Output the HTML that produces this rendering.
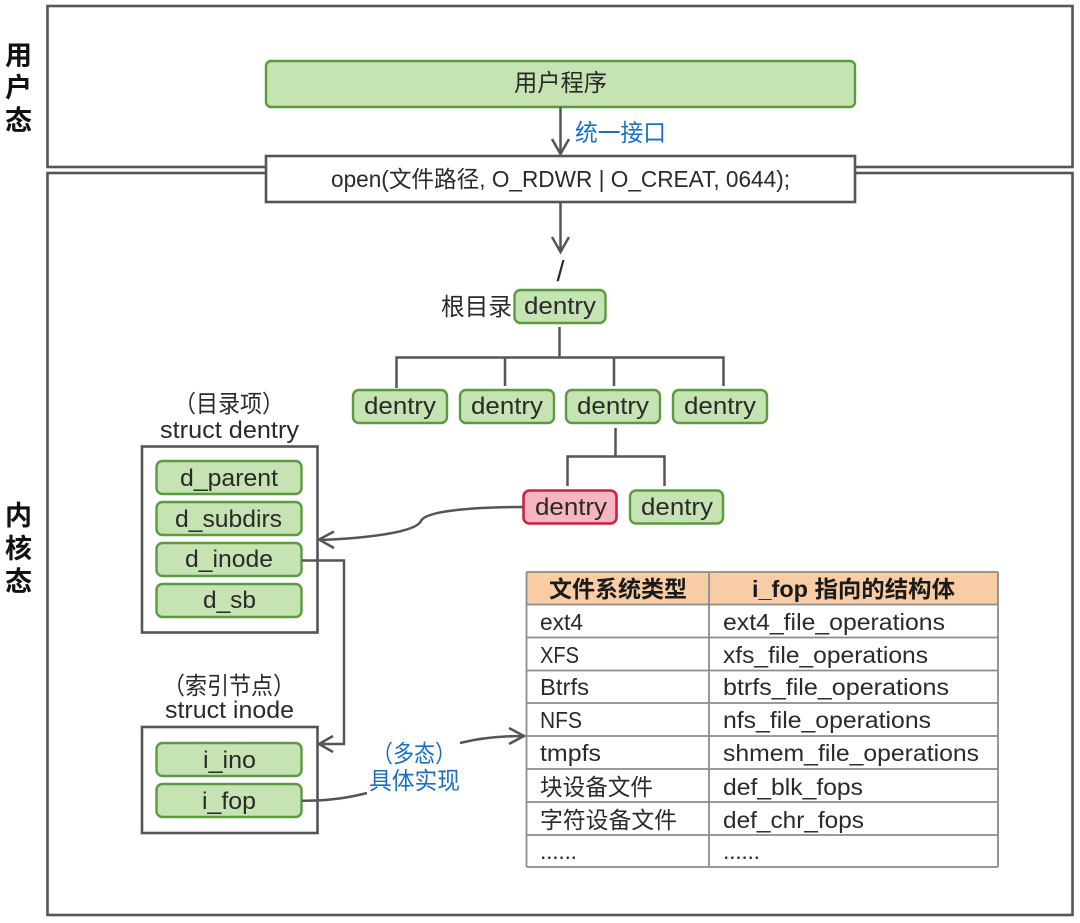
<!DOCTYPE html>
<html><head><meta charset="utf-8">
<style>
html,body{margin:0;padding:0;background:#fff;width:1080px;height:923px;overflow:hidden}
svg{display:block}
text{font-family:"Liberation Sans","Noto Sans CJK SC",sans-serif;fill:#2a2a2a;font-size:24px}
.c{font-size:23px}
.b{fill:#1a6fc4}
.h{font-weight:bold;fill:#1a1a1a;font-size:23px}
.s{font-weight:bold;fill:#111;font-size:27px}
.g{fill:#c6e3b3;stroke:#5c9a42;stroke-width:2.4}
.r{fill:#f6b6c1;stroke:#c9233f;stroke-width:2.6}
.o{fill:#fff;stroke:#555;stroke-width:2.6}
.l{fill:none;stroke:#555;stroke-width:2.5}
.t{fill:none;stroke:#8c8c8c;stroke-width:1.8}
</style></head><body>
<svg width="1080" height="923" viewBox="0 0 1080 923" xmlns="http://www.w3.org/2000/svg">
<rect class="o" x="47.5" y="6" width="1025" height="161"/>
<rect class="o" x="47.5" y="173" width="1025" height="742"/>
<text class="s" x="5" y="65">用</text>
<text class="s" x="5" y="97">户</text>
<text class="s" x="5" y="130">态</text>
<text class="s" x="5" y="525">内</text>
<text class="s" x="5" y="558">核</text>
<text class="s" x="5" y="591">态</text>

<rect class="g" x="266" y="61" width="589" height="46" rx="5"/>
<text x="514" y="91" textLength="93" lengthAdjust="spacingAndGlyphs">用户程序</text>
<rect class="o" x="266" y="156" width="589" height="46"/>
<text class="c" x="331" y="187" textLength="459" lengthAdjust="spacingAndGlyphs">open(文件路径, O_RDWR | O_CREAT, 0644);</text>
<text class="b" x="575" y="141" textLength="91" lengthAdjust="spacingAndGlyphs">统一接口</text>

<path class="l" d="M560.5 107V154M552 139l8.500 15 8.500-15"/>
<path class="l" d="M560.500 202V251M552 237l8.500 15 8.500-15"/>
<text x="556.500" y="281" style="font-size:29px;font-weight:normal">/</text>

<text x="441" y="315" textLength="71" lengthAdjust="spacingAndGlyphs">根目录</text>
<rect class="g" x="514.500" y="290" width="91" height="33" rx="6"/>
<text x="524" y="314" textLength="72" lengthAdjust="spacingAndGlyphs">dentry</text>

<path class="l" d="M559.500 327V357M396.500 388V357.500H723.500V386M505 357V386M614 357V386"/>
<rect class="g" x="353" y="390" width="94" height="33" rx="6"/>
<rect class="g" x="460" y="390" width="94" height="33" rx="6"/>
<rect class="g" x="566" y="390" width="94" height="33" rx="6"/>
<rect class="g" x="673" y="390" width="94" height="33" rx="6"/>
<text x="364" y="414" textLength="72" lengthAdjust="spacingAndGlyphs">dentry</text>
<text x="471" y="414" textLength="72" lengthAdjust="spacingAndGlyphs">dentry</text>
<text x="577" y="414" textLength="72" lengthAdjust="spacingAndGlyphs">dentry</text>
<text x="684" y="414" textLength="72" lengthAdjust="spacingAndGlyphs">dentry</text>

<path class="l" d="M615.500 428V456M567.500 486V456.500H664.500V486"/>
<rect class="r" x="523.500" y="490.500" width="93" height="33" rx="6"/>
<rect class="g" x="630" y="490.500" width="93" height="33" rx="6"/>
<text x="535" y="515" textLength="72" lengthAdjust="spacingAndGlyphs">dentry</text>
<text x="641" y="515" textLength="72" lengthAdjust="spacingAndGlyphs">dentry</text>

<text x="174" y="412" textLength="110" lengthAdjust="spacingAndGlyphs">（目录项）</text>
<text x="160" y="438" textLength="139" lengthAdjust="spacingAndGlyphs">struct dentry</text>
<rect class="o" x="142" y="446.500" width="175.500" height="186"/>
<rect class="g" x="156.500" y="461" width="145" height="33" rx="6"/>
<rect class="g" x="156.500" y="502" width="145" height="33" rx="6"/>
<rect class="g" x="156.500" y="543" width="145" height="33" rx="6"/>
<rect class="g" x="156.500" y="584" width="145" height="33" rx="6"/>
<text x="180" y="486" textLength="98" lengthAdjust="spacingAndGlyphs">d_parent</text>
<text x="175" y="527" textLength="107" lengthAdjust="spacingAndGlyphs">d_subdirs</text>
<text x="185" y="567" textLength="88" lengthAdjust="spacingAndGlyphs">d_inode</text>
<text x="203" y="608" textLength="53" lengthAdjust="spacingAndGlyphs">d_sb</text>

<text x="163" y="694" textLength="132" lengthAdjust="spacingAndGlyphs">（索引节点）</text>
<text x="165" y="718" textLength="129" lengthAdjust="spacingAndGlyphs">struct inode</text>
<rect class="o" x="142" y="727" width="175.500" height="106"/>
<rect class="g" x="156.500" y="743" width="145" height="33" rx="6"/>
<rect class="g" x="156.500" y="784" width="145" height="33" rx="6"/>
<text x="203" y="768" textLength="53" lengthAdjust="spacingAndGlyphs">i_ino</text>
<text x="202" y="809" textLength="54" lengthAdjust="spacingAndGlyphs">i_fop</text>

<path class="l" d="M523 507C480 507 426 510 421 521C416 532 370 538 320 540M334 531.500L319 539.500L334 548"/>
<path class="l" d="M302 560.500H344V744H320M333 736L319 744L333 752"/>
<path class="l" d="M302 800.700C325 801 348 798 367 793"/>
<path class="l" d="M460 743C480 738 500 736 523 736M509 728L524 736L509 744"/>
<text class="b" x="372" y="762" textLength="84" lengthAdjust="spacingAndGlyphs">（多态）</text>
<text class="b" x="369" y="789" textLength="91" lengthAdjust="spacingAndGlyphs">具体实现</text>

<rect x="526" y="572" width="472" height="32" fill="#f8cda6"/>
<path class="t" d="M526.500 572H998M526.500 604.500H998M526.500 637.500H998M526.500 670.500H998M526.500 703H998M526.500 736H998M526.500 769H998M526.500 802H998M526.500 835H998M526.500 867H998M526.500 572V867M709 572V867M998 572V867"/>
<text class="h" x="549" y="597" textLength="138" lengthAdjust="spacingAndGlyphs">文件系统类型</text>
<text class="h" x="752" y="597" textLength="203" lengthAdjust="spacingAndGlyphs">i_fop 指向的结构体</text>
<text class="c" x="540" y="630" textLength="43" lengthAdjust="spacingAndGlyphs">ext4</text>
<text class="c" x="540" y="663" textLength="39" lengthAdjust="spacingAndGlyphs">XFS</text>
<text class="c" x="540" y="695" textLength="49" lengthAdjust="spacingAndGlyphs">Btrfs</text>
<text class="c" x="540" y="728" textLength="42" lengthAdjust="spacingAndGlyphs">NFS</text>
<text class="c" x="540" y="761" textLength="61" lengthAdjust="spacingAndGlyphs">tmpfs</text>
<text class="c" x="540" y="795" textLength="113" lengthAdjust="spacingAndGlyphs">块设备文件</text>
<text class="c" x="540" y="828" textLength="137" lengthAdjust="spacingAndGlyphs">字符设备文件</text>
<text class="c" x="540" y="859" textLength="37" lengthAdjust="spacing">......</text>
<text class="c" x="723" y="630" textLength="222" lengthAdjust="spacingAndGlyphs">ext4_file_operations</text>
<text class="c" x="723" y="663" textLength="205" lengthAdjust="spacingAndGlyphs">xfs_file_operations</text>
<text class="c" x="723" y="695" textLength="226" lengthAdjust="spacingAndGlyphs">btrfs_file_operations</text>
<text class="c" x="723" y="728" textLength="208" lengthAdjust="spacingAndGlyphs">nfs_file_operations</text>
<text class="c" x="723" y="761" textLength="256" lengthAdjust="spacingAndGlyphs">shmem_file_operations</text>
<text class="c" x="723" y="795" textLength="140" lengthAdjust="spacingAndGlyphs">def_blk_fops</text>
<text class="c" x="723" y="828" textLength="141" lengthAdjust="spacingAndGlyphs">def_chr_fops</text>
<text class="c" x="723" y="859" textLength="37" lengthAdjust="spacing">......</text>
</svg>
</body></html>
